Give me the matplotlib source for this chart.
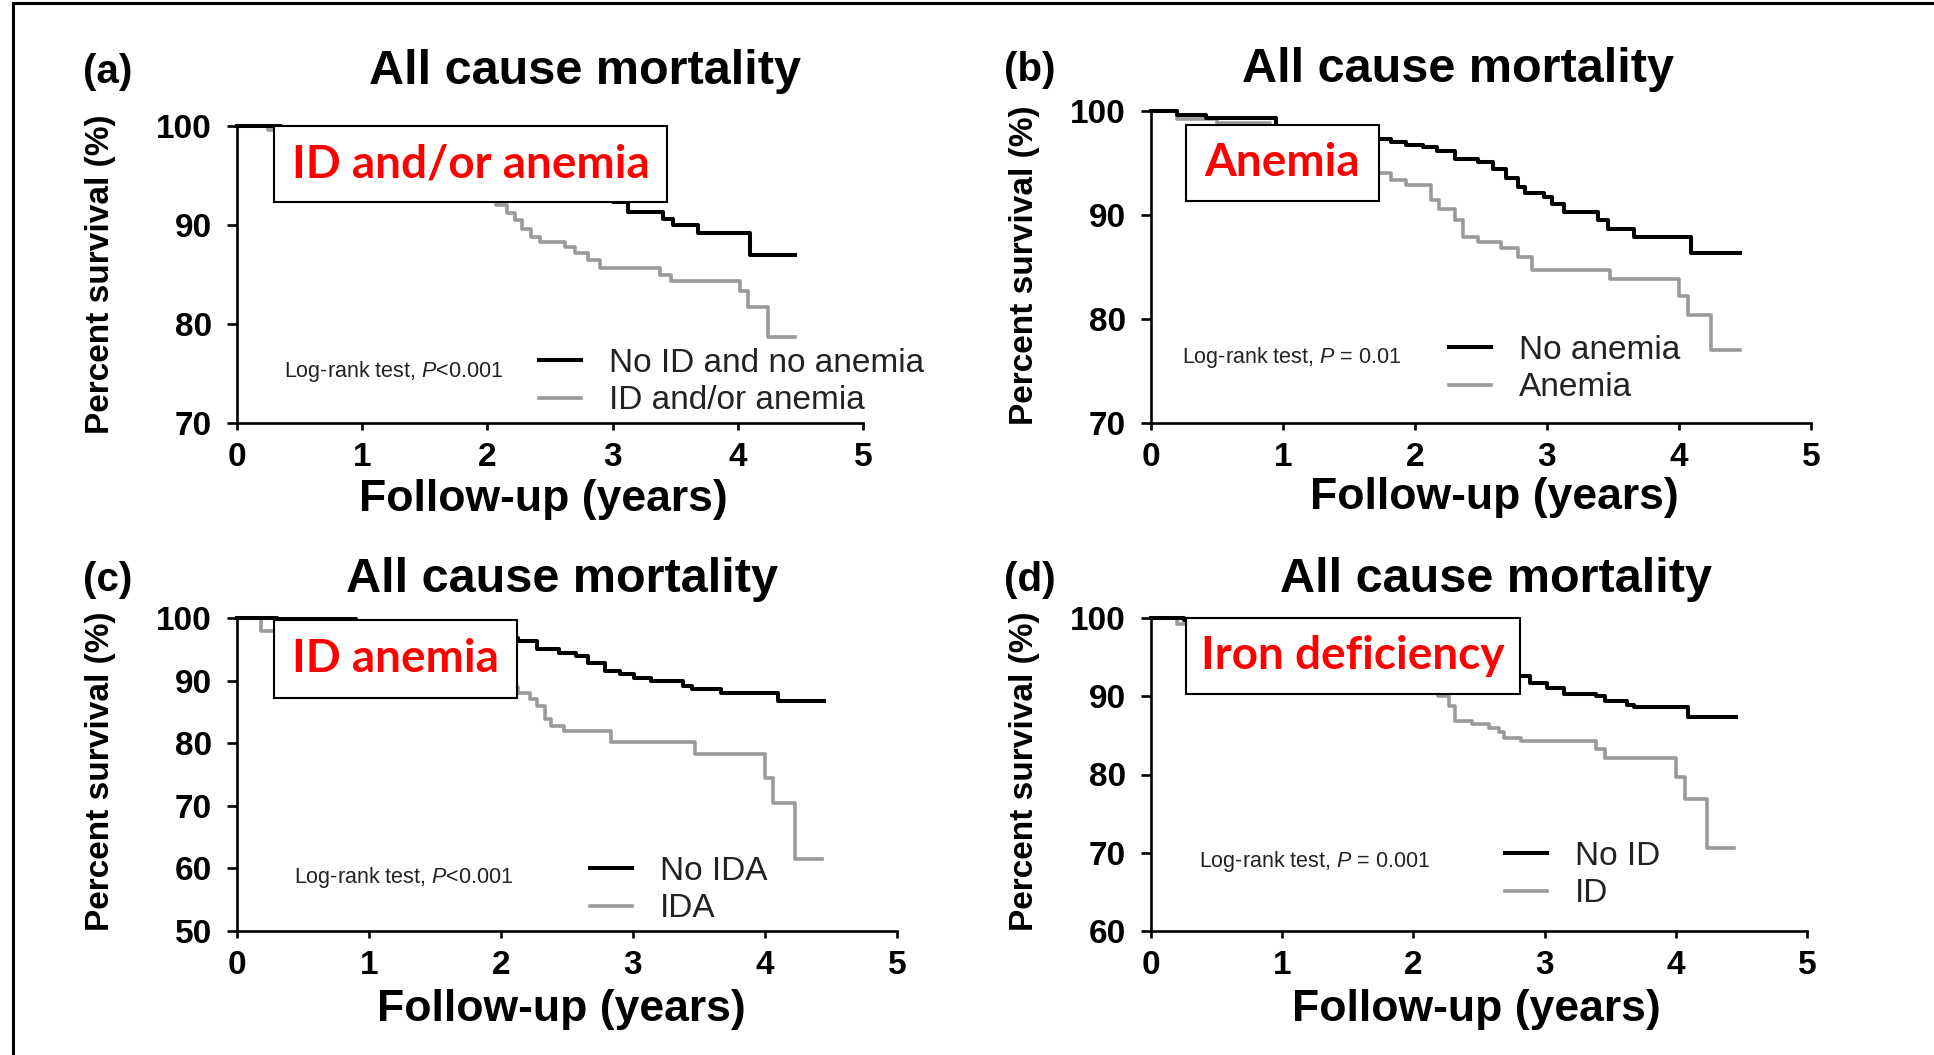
import matplotlib
matplotlib.use("Agg")
import matplotlib.pyplot as plt
from matplotlib.patches import Rectangle
from matplotlib.lines import Line2D

plt.rcParams['font.family'] = ['Liberation Sans', 'DejaVu Sans']
plt.rcParams['mathtext.fontset'] = 'custom'
plt.rcParams['mathtext.it'] = 'Liberation Sans:italic'
plt.rcParams['mathtext.rm'] = 'Liberation Sans'

# ---- data ----
xticks = [0, 1, 2, 3, 4, 5]

# (a) ID and/or anemia
a_ref_t = [0, 0.35, 0.9, 1.4, 1.8, 2.1, 2.4, 2.6, 2.8, 3.0, 3.12, 3.40, 3.48, 3.68, 4.10, 4.46]
a_ref_s = [100, 99.8, 99.3, 98.5, 97.5, 96.5, 95.3, 94.2, 93.2, 92.3, 91.3, 90.6, 90.0, 89.2, 87.0, 87.0]
a_grp_t = [0, 0.25, 0.6, 1.0, 1.3, 1.6, 1.8, 1.95, 2.07, 2.16, 2.22, 2.28, 2.35, 2.42, 2.62,
           2.70, 2.80, 2.90, 3.38, 3.47, 4.02, 4.08, 4.24, 4.46]
a_grp_s = [100, 99.6, 99.0, 98.0, 96.8, 95.5, 94.3, 93.2, 92.0, 91.2, 90.5, 89.6, 88.8, 88.3, 87.8,
           87.2, 86.5, 85.7, 84.9, 84.3, 83.3, 81.7, 78.7, 78.7]

# (b) Anemia
b_ref_t = [0, 0.2, 0.42, 0.95, 1.3, 1.55, 1.72, 1.82, 1.93, 2.06, 2.17, 2.30, 2.48, 2.59, 2.69,
           2.78, 2.83, 2.98, 3.04, 3.13, 3.39, 3.46, 3.66, 4.09, 4.46]
b_ref_s = [100, 99.6, 99.3, 98.6, 98.2, 97.8, 97.3, 97.0, 96.7, 96.5, 96.2, 95.4, 95.1, 94.4, 93.6,
           92.7, 92.1, 91.7, 91.1, 90.3, 89.5, 88.7, 87.9, 86.3, 86.3]
b_grp_t = [0, 0.2, 0.5, 0.9, 1.2, 1.45, 1.6, 1.72, 1.82, 1.93, 2.12, 2.18, 2.30, 2.36, 2.48,
           2.65, 2.78, 2.89, 3.48, 4.0, 4.07, 4.24, 4.46]
b_grp_s = [100, 99.2, 98.8, 98.2, 97.0, 95.8, 94.8, 94.0, 93.4, 92.9, 91.4, 90.6, 89.5, 87.9, 87.4,
           86.8, 86.0, 84.7, 83.8, 82.2, 80.4, 77.0, 77.0]

# (c) ID anemia
c_ref_t = [0, 0.3, 0.9, 1.3, 1.6, 1.85, 2.0, 2.13, 2.27, 2.44, 2.57, 2.66, 2.79, 2.90, 3.01,
           3.14, 3.38, 3.45, 3.67, 4.10, 4.45]
c_ref_s = [100, 99.8, 99.5, 99.0, 98.3, 97.5, 96.8, 96.3, 95.0, 94.4, 93.9, 92.8, 91.5, 91.0, 90.4,
           89.9, 89.1, 88.6, 88.0, 86.7, 86.7]
c_grp_t = [0, 0.18, 0.5, 0.9, 1.2, 1.5, 1.7, 1.9, 2.05, 2.13, 2.22, 2.27, 2.33, 2.38, 2.48,
           2.83, 3.47, 4.0, 4.06, 4.23, 4.43]
c_grp_s = [100, 97.9, 97.3, 96.5, 95.5, 94.0, 92.5, 90.5, 89.0, 88.0, 87.0, 85.9, 83.8, 82.8, 82.0,
           80.2, 78.2, 74.5, 70.5, 61.5, 61.5]

# (d) Iron deficiency
d_ref_t = [0, 0.25, 0.8, 1.3, 1.8, 2.2, 2.5, 2.8, 2.89, 3.02, 3.15, 3.39, 3.46, 3.63, 3.68, 4.09, 4.46]
d_ref_s = [100, 99.8, 99.3, 98.3, 96.8, 95.3, 94.0, 92.6, 91.7, 91.1, 90.3, 90.0, 89.4, 88.9, 88.6,
           87.3, 87.3]
d_grp_t = [0, 0.2, 0.6, 1.0, 1.3, 1.6, 1.85, 2.05, 2.19, 2.27, 2.32, 2.45, 2.58, 2.65, 2.69,
           2.82, 3.39, 3.46, 4.0, 4.07, 4.24, 4.44]
d_grp_s = [100, 99.2, 98.6, 97.8, 96.5, 95.0, 93.0, 91.3, 90.0, 88.8, 86.9, 86.4, 86.0, 85.4, 84.7,
           84.3, 83.2, 82.1, 79.7, 76.9, 70.6, 70.6]

legend_ref = ["No ID and no anemia", "No anemia", "No IDA", "No ID"]
legend_grp = ["ID and/or anemia", "Anemia", "IDA", "ID"]
box_text = ["ID and/or anemia", "Anemia", "ID anemia", "Iron deficiency"]
logrank = [r"Log-rank test, $\mathit{P}$<0.001", r"Log-rank test, $\mathit{P}$ = 0.01",
           r"Log-rank test, $\mathit{P}$<0.001", r"Log-rank test, $\mathit{P}$ = 0.001"]
letters = ["(a)", "(b)", "(c)", "(d)"]
ymins = [70, 70, 50, 60]

curves = [(a_ref_t, a_ref_s, a_grp_t, a_grp_s), (b_ref_t, b_ref_s, b_grp_t, b_grp_s),
          (c_ref_t, c_ref_s, c_grp_t, c_grp_s), (d_ref_t, d_ref_s, d_grp_t, d_grp_s)]

# ---- layout in pixels of the 1934x1055 picture ----
W, H = 1934, 1055
axes_px = [(237, 863, 126, 423), (1151, 1811, 111, 423), (237, 897, 618, 931), (1151, 1807, 618, 931)]
letter_px = [(83, 72), (1004, 70), (83, 580), (1004, 580)]
title_px = [(585, 72), (1458, 70), (562, 580), (1496, 580)]
xlab_px = [(543, 500), (1494, 498), (561, 1009), (1476, 1009)]
ylab_px = [(101, 274), (1024, 265), (101, 771), (1024, 771)]
logrank_px = [(284, 371), (1182, 357), (294, 877), (1199, 862)]
legend_px = [(539, 382), (1449, 369), (590, 890), (1505, 875)]
box_px = [(274, 667, 126, 202), (1186, 1379, 125, 201), (274, 517, 620, 698), (1186, 1520, 618, 694)]

GRAY = "#9a9a9a"

fig = plt.figure(figsize=(W / 100, H / 100), dpi=100)
fig.patch.set_facecolor("white")


def fx(x):
    return x / W


def fy(y):
    return 1 - y / H


for i in range(4):
    x0, x5, yt, yb = axes_px[i]
    ax = fig.add_axes([fx(x0), fy(yb), (x5 - x0) / W, (yb - yt) / H])
    rt, rs, gt, gs = curves[i]
    l1, = ax.plot(rt, rs, drawstyle="steps-post", color="black", lw=2.9, clip_on=False, zorder=3)
    l2, = ax.plot(gt, gs, drawstyle="steps-post", color=GRAY, lw=2.6, clip_on=False, zorder=2)
    ax.set_xlim(0, 5)
    ax.set_ylim(ymins[i], 100)
    ax.set_xticks(xticks)
    ax.set_yticks(range(ymins[i], 101, 10))
    for s in ["top", "right"]:
        ax.spines[s].set_visible(False)
    for s in ["left", "bottom"]:
        ax.spines[s].set_linewidth(1.9)
    ax.tick_params(axis="x", length=5, width=1.9, pad=9, labelsize=24)
    ax.tick_params(axis="y", length=7, width=1.9, pad=11, labelsize=24)
    for lab in ax.get_xticklabels() + ax.get_yticklabels():
        lab.set_fontweight("bold")
    ax.legend([l1, l2], [legend_ref[i], legend_grp[i]], loc="center left",
              bbox_to_anchor=(fx(legend_px[i][0]), fy(legend_px[i][1])),
              bbox_transform=fig.transFigure, frameon=False, fontsize=24,
              handlelength=1.27, handletextpad=0.83, labelspacing=0.2,
              borderpad=0, borderaxespad=0, labelcolor="#222222")

    fig.text(fx(letter_px[i][0]), fy(letter_px[i][1]), letters[i], fontsize=29,
             fontweight="bold", ha="left", va="center")
    fig.text(fx(title_px[i][0]), fy(title_px[i][1]), "All cause mortality", fontsize=35,
             fontweight="bold", ha="center", va="center")
    fig.text(fx(xlab_px[i][0]), fy(xlab_px[i][1]), "Follow-up (years)", fontsize=32,
             fontweight="bold", ha="center", va="center")
    fig.text(fx(ylab_px[i][0]), fy(ylab_px[i][1]), "Percent survival (%)", fontsize=24,
             fontweight="bold", ha="center", va="center", rotation=90)
    fig.text(fx(logrank_px[i][0]), fy(logrank_px[i][1]), logrank[i], fontsize=15.5,
             ha="left", va="center", color="#222222")

    bx0, bx1, by0, by1 = box_px[i]
    fig.add_artist(Rectangle((fx(bx0), fy(by1)), (bx1 - bx0) / W, (by1 - by0) / H,
                             transform=fig.transFigure, facecolor="white",
                             edgecolor="black", lw=1.5, zorder=5))
    fig.text(fx((bx0 + bx1) / 2), fy((by0 + by1) / 2), box_text[i], fontsize=33,
             fontweight="bold", family="Lato", color="#ff0000", ha="center",
             va="center", zorder=6)

# frame lines of the original crop (left and top edges)
fig.add_artist(Line2D([fx(13), fx(13)], [0, fy(3)], color="black", lw=2.2))
fig.add_artist(Line2D([fx(13), 1], [fy(3), fy(3)], color="black", lw=2.2))

fig.savefig("out.png", dpi=100, facecolor="white")
